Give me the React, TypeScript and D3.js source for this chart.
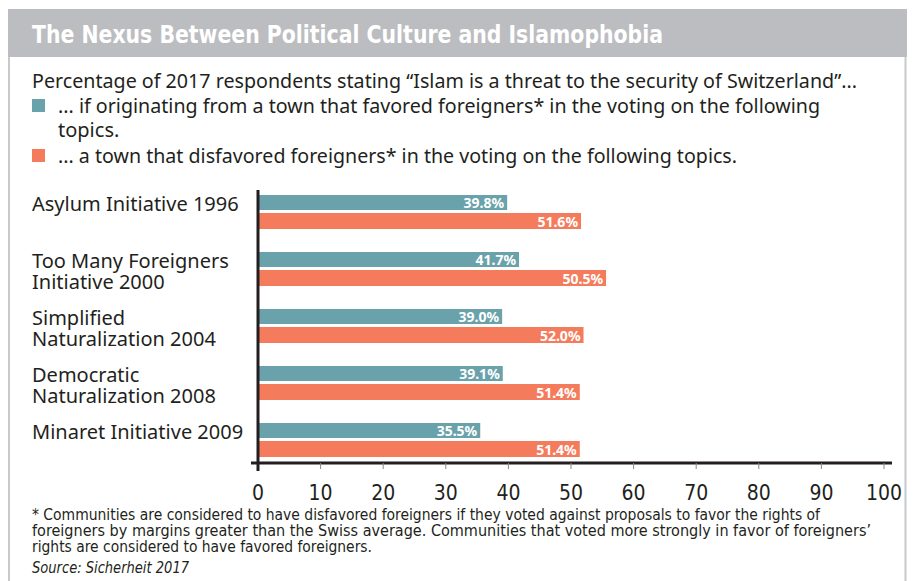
import * as d3 from "d3";

const categories = [
  ["Asylum Initiative 1996"],
  ["Too Many Foreigners", "Initiative 2000"],
  ["Simplified", "Naturalization 2004"],
  ["Democratic", "Naturalization 2008"],
  ["Minaret Initiative 2009"],
];
const favored = [39.8, 41.7, 39.0, 39.1, 35.5];
// bar lengths as drawn in the source (the 2000 orange bar is drawn ~55.6 though labelled 50.5)
const disfavored = [51.6, 55.6, 52.0, 51.4, 51.4];
const favoredLabels = ["39.8%", "41.7%", "39.0%", "39.1%", "35.5%"];
const disfavoredLabels = ["51.6%", "50.5%", "52.0%", "51.4%", "51.4%"];
const ticks = [0, 10, 20, 30, 40, 50, 60, 70, 80, 90, 100];

const TEAL = "#6aa2ab";
const ORANGE = "#f47c5c";
const INK = "#231f20";
const SANS = "'Noto Sans', 'Open Sans', sans-serif";
const NARROW = "'Liberation Sans Narrow', 'DejaVu Sans Condensed', sans-serif";

export default function App() {
  const x = d3.scaleLinear().domain([0, 100]).range([258, 884]);
  // each band is one topic: teal bar on top, orange bar below
  const y = d3
    .scaleBand<number>()
    .domain(d3.range(categories.length))
    .range([195, 480]);
  const barH = 15;
  const gap = 3;

  return (
    <svg
      width={920}
      height={581}
      style={{ position: "absolute", left: 0, top: 0 }}
      fontFamily={SANS}
    >
      <rect width={920} height={581} fill="#fff" />
      {/* frame */}
      <rect x={8} y={9} width={899} height={48} fill="#bcbdc0" />
      <line x1={9} y1={57} x2={9} y2={581} stroke="#c8c9cb" strokeWidth={2} />
      <line x1={905.5} y1={57} x2={905.5} y2={581} stroke="#c8c9cb" strokeWidth={2} />
      <text
        x={32}
        y={43}
        fill="#fff"
        fontSize={25}
        fontWeight={700}
        fontFamily={NARROW}
        textLength={631}
        lengthAdjust="spacingAndGlyphs"
      >
        The Nexus Between Political Culture and Islamophobia
      </text>

      {/* subtitle and legend */}
      <g fill={INK} fontSize={20}>
        <text x={32} y={88} textLength={825} lengthAdjust="spacingAndGlyphs">
          Percentage of 2017 respondents stating “Islam is a threat to the security of Switzerland”...
        </text>
        <rect x={32} y={99} width={13} height={13} fill={TEAL} />
        <text x={58} y={113} textLength={762} lengthAdjust="spacingAndGlyphs">
          ... if originating from a town that favored foreigners* in the voting on the following
        </text>
        <text x={58} y={137}>topics.</text>
        <rect x={32} y={149} width={13} height={13} fill={ORANGE} />
        <text x={58} y={163} textLength={679} lengthAdjust="spacingAndGlyphs">
          ... a town that disfavored foreigners* in the voting on the following topics.
        </text>
      </g>

      {/* bars */}
      {categories.map((lines, i) => {
        const y0 = y(i)!;
        return (
          <g key={i}>
            <text x={32} y={y0 + 16} fontSize={20} fill={INK}>
              {lines.map((t, j) => (
                <tspan key={j} x={32} dy={j === 0 ? 0 : 21}>
                  {t}
                </tspan>
              ))}
            </text>
            <rect x={x(0)} y={y0} width={x(favored[i]) - x(0)} height={barH} fill={TEAL} />
            <text
              x={x(favored[i]) - 3}
              y={y0 + 12.5}
              textAnchor="end"
              fill="#fff"
              fontSize={14}
              fontWeight={700}
            >
              {favoredLabels[i]}
            </text>
            <rect
              x={x(0)}
              y={y0 + barH + gap}
              width={x(disfavored[i]) - x(0)}
              height={barH + 1}
              fill={ORANGE}
            />
            <text
              x={x(disfavored[i]) - 3}
              y={y0 + barH + gap + 13.5}
              textAnchor="end"
              fill="#fff"
              fontSize={14}
              fontWeight={700}
            >
              {disfavoredLabels[i]}
            </text>
          </g>
        );
      })}

      {/* axes */}
      <line x1={251} y1={463} x2={892} y2={463} stroke={INK} strokeWidth={3} />
      {ticks.slice(1).map((t) => (
        <line key={t} x1={x(t)} y1={463} x2={x(t)} y2={469} stroke="#888" strokeWidth={1} />
      ))}
      <line x1={x(0)} y1={190} x2={x(0)} y2={471} stroke={INK} strokeWidth={3} />
      {ticks.map((t) => (
        <text
          key={t}
          x={x(t)}
          y={500}
          textAnchor="middle"
          fontSize={21}
          fill={INK}
          fontFamily={NARROW}
        >
          {t}
        </text>
      ))}

      {/* footnote */}
      <g fill={INK} fontSize={16} fontFamily={NARROW}>
        <text x={32} y={520} textLength={788} lengthAdjust="spacingAndGlyphs">
          * Communities are considered to have disfavored foreigners if they voted against proposals to favor the rights of
        </text>
        <text x={32} y={536} textLength={839} lengthAdjust="spacingAndGlyphs">
          foreigners by margins greater than the Swiss average. Communities that voted more strongly in favor of foreigners’
        </text>
        <text x={32} y={552} textLength={340} lengthAdjust="spacingAndGlyphs">
          rights are considered to have favored foreigners.
        </text>
        <text x={32} y={573} fontStyle="italic" textLength={157} lengthAdjust="spacingAndGlyphs">
          Source: Sicherheit 2017
        </text>
      </g>
    </svg>
  );
}
